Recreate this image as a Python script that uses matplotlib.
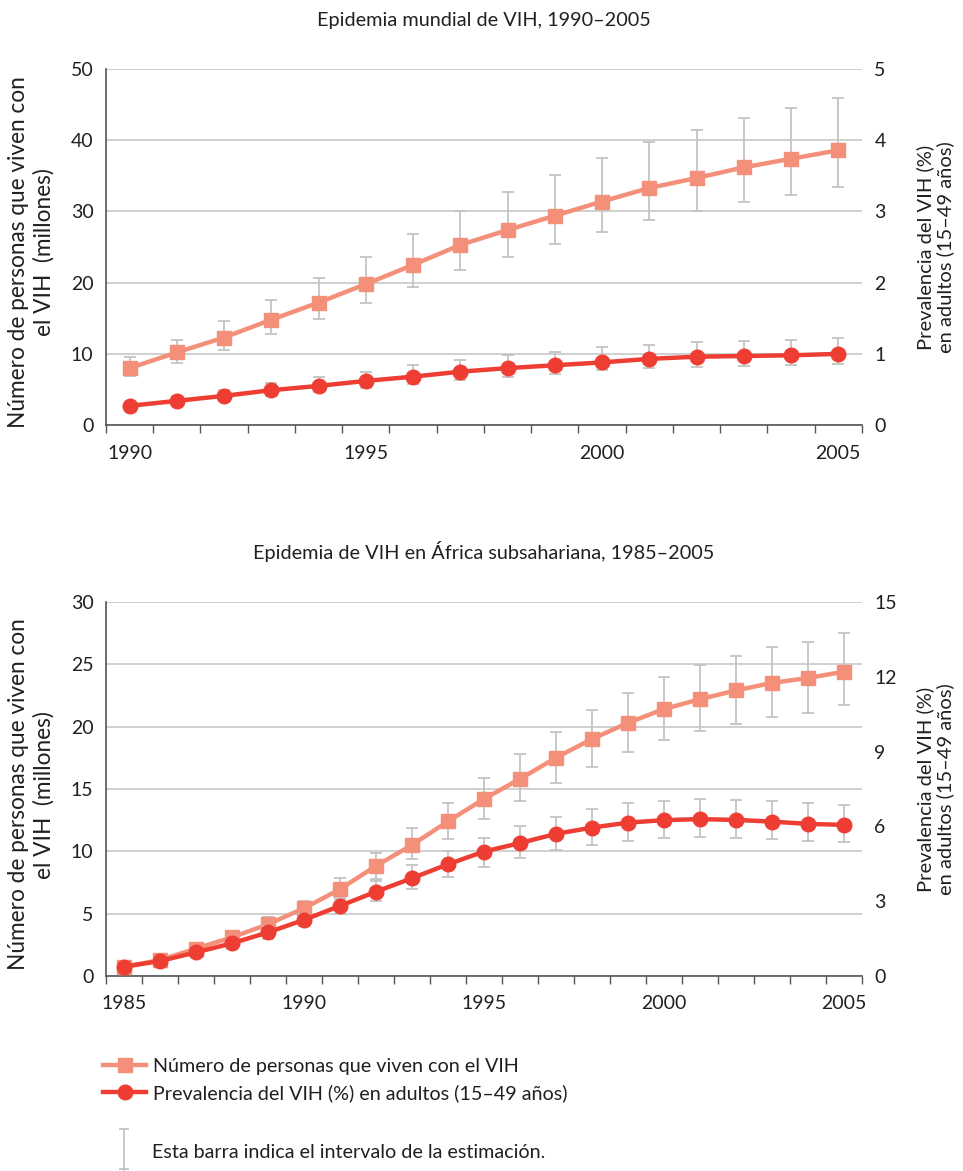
import numpy as np
import matplotlib
matplotlib.use("Agg")
import matplotlib.pyplot as plt
from matplotlib.lines import Line2D

plt.rcParams['font.family'] = ['Lato', 'DejaVu Sans']

# ---- datos: epidemia mundial 1990-2005
years_world = list(range(1990, 2006))
world_people = [8.0, 10.2, 12.3, 14.8, 17.2, 19.8, 22.5, 25.3, 27.4, 29.4, 31.4, 33.3, 34.7, 36.2, 37.4, 38.6]
world_people_low = [6.9, 8.75, 10.6, 12.8, 14.9, 17.1, 19.4, 21.8, 23.6, 25.4, 27.1, 28.8, 30.1, 31.3, 32.3, 33.4]
world_people_high = [9.5, 12.0, 14.6, 17.6, 20.6, 23.6, 26.9, 30.1, 32.7, 35.1, 37.5, 39.8, 41.5, 43.2, 44.5, 46.0]
world_prev = [0.27, 0.34, 0.41, 0.49, 0.55, 0.62, 0.68, 0.75, 0.80, 0.84, 0.88, 0.93, 0.96, 0.97, 0.98, 1.0]
world_prev_low = [0.22, 0.28, 0.34, 0.41, 0.46, 0.52, 0.57, 0.63, 0.68, 0.72, 0.77, 0.80, 0.82, 0.83, 0.84, 0.86]
world_prev_high = [0.33, 0.41, 0.49, 0.59, 0.67, 0.75, 0.84, 0.92, 0.98, 1.03, 1.09, 1.13, 1.16, 1.18, 1.19, 1.22]

# ---- datos: Africa subsahariana 1985-2005
years_ssa = list(range(1985, 2006))
ssa_people = [0.75, 1.28, 2.2, 3.1, 4.15, 5.43, 6.96, 8.83, 10.5, 12.4, 14.2, 15.8, 17.5, 19.0, 20.3,
              21.4, 22.2, 22.9, 23.5, 23.9, 24.4]
ssa_people_low = [0.6, 1.05, 1.85, 2.65, 3.6, 4.9, 6.36, 7.8, 9.37, 10.97, 12.6, 14.07, 15.5, 16.8, 17.95,
                  18.94, 19.64, 20.2, 20.8, 21.1, 21.7]
ssa_people_high = [0.9, 1.5, 2.5, 3.5, 4.7, 6.0, 7.84, 9.85, 11.9, 13.9, 15.9, 17.8, 19.6, 21.3, 22.7,
                   24.0, 24.9, 25.7, 26.35, 26.8, 27.5]
ssa_prev = [0.37, 0.6, 0.95, 1.31, 1.75, 2.25, 2.81, 3.38, 3.92, 4.48, 4.99, 5.33, 5.7, 5.95, 6.15,
            6.25, 6.29, 6.26, 6.19, 6.1, 6.06]
ssa_prev_low = [0.3, 0.5, 0.8, 1.1, 1.5, 2.0, 2.5, 3.02, 3.49, 3.96, 4.39, 4.72, 5.06, 5.26, 5.43,
                5.52, 5.57, 5.55, 5.49, 5.43, 5.37]
ssa_prev_high = [0.45, 0.7, 1.1, 1.5, 2.0, 2.5, 3.1, 3.8, 4.44, 5.03, 5.52, 6.02, 6.39, 6.7, 6.93,
                 7.03, 7.09, 7.06, 7.0, 6.95, 6.86]

titles = ["Epidemia mundial de VIH, 1990\u20132005",
          "Epidemia de VIH en \u00c1frica subsahariana, 1985\u20132005"]
ylabel_left = "N\u00famero de personas que viven con\nel VIH  (millones)"
ylabel_right = "Prevalencia del VIH (%)\nen adultos (15\u201349 a\u00f1os)"
label_people = "N\u00famero de personas que viven con el VIH"
label_prev = "Prevalencia del VIH (%) en adultos (15\u201349 a\u00f1os)"
label_bar = "Esta barra indica el intervalo de la estimaci\u00f3n."

C_SQ = '#f4907a'
C_CI = '#ee3d33'
C_ERR = '#c4c4c4'
C_GRID = '#c8c8c8'
C_TXT = '#231f20'
C_AX = '#555555'

fig = plt.figure(figsize=(9.63, 11.71), dpi=100)

panels = [
    dict(rect=[0.110, 0.637, 0.785, 0.304], years=years_world, people=world_people,
         plo=world_people_low, phi=world_people_high, prev=world_prev, vlo=world_prev_low,
         vhi=world_prev_high, ymax=50, ystep=10, rmax=5, rstep=1, every=5, title=titles[0]),
    dict(rect=[0.110, 0.1665, 0.785, 0.3195], years=years_ssa, people=ssa_people,
         plo=ssa_people_low, phi=ssa_people_high, prev=ssa_prev, vlo=ssa_prev_low,
         vhi=ssa_prev_high, ymax=30, ystep=5, rmax=15, rstep=3, every=5, title=titles[1]),
]

for p in panels:
    ax = fig.add_axes(p['rect'])
    n = len(p['years'])
    x = np.arange(n)
    people = np.array(p['people'])
    prev = np.array(p['prev'])

    ax.errorbar(x, people, yerr=[people - np.array(p['plo']), np.array(p['phi']) - people],
                fmt='none', ecolor=C_ERR, elinewidth=1.3, capsize=4, capthick=1.3, zorder=2)
    sq, = ax.plot(x, people, color=C_SQ, lw=3.2, marker='s', ms=10, zorder=3)

    ax.set_xlim(-0.5, n - 0.5)
    ax.set_ylim(0, p['ymax'])
    ax.set_yticks(np.arange(0, p['ymax'] + 1, p['ystep']))
    ax.set_xticks(x[::p['every']])
    ax.set_xticklabels([str(y) for y in p['years'][::p['every']]])
    ax.set_xticks(np.arange(-0.5, n, 1.0), minor=True)
    ax.tick_params(axis='x', which='major', length=0, pad=14, labelsize=14, labelcolor=C_TXT)
    ax.tick_params(axis='x', which='minor', length=6, width=1, color=C_AX)
    ax.tick_params(axis='y', length=0, pad=9, labelsize=14, labelcolor=C_TXT)
    ax.grid(axis='y', color=C_GRID, lw=1.2)
    ax.set_axisbelow(True)
    for s in ['top', 'right']:
        ax.spines[s].set_visible(False)
    ax.spines['left'].set_color(C_AX)
    ax.spines['bottom'].set_color(C_AX)
    ax.spines['left'].set_linewidth(1.2)
    ax.spines['bottom'].set_linewidth(1.2)
    ax.set_ylabel(ylabel_left, fontsize=16.3, color=C_TXT, multialignment='center',
                  va='center')
    ax.yaxis.set_label_coords(-0.099, 0.485)
    ax.set_title(p['title'], fontsize=14.3, color=C_TXT, pad=31)

    ax2 = ax.twinx()
    ax2.errorbar(x, prev, yerr=[prev - np.array(p['vlo']), np.array(p['vhi']) - prev],
                 fmt='none', ecolor=C_ERR, elinewidth=1.3, capsize=4, capthick=1.3, zorder=2)
    ci, = ax2.plot(x, prev, color=C_CI, lw=3.2, marker='o', ms=10.5, zorder=3)
    ax2.set_ylim(0, p['rmax'])
    ax2.set_yticks(np.arange(0, p['rmax'] + 0.1, p['rstep']))
    ax2.tick_params(axis='y', length=0, pad=9, labelsize=14, labelcolor=C_TXT)
    for s in ax2.spines.values():
        s.set_visible(False)
    ax2.set_ylabel(ylabel_right, fontsize=14.5, color=C_TXT, rotation=90,
                   multialignment='center', va='center')
    ax2.yaxis.set_label_coords(1.097, 0.5)

fig.legend([sq, ci], [label_people, label_prev], loc='upper left',
           bbox_to_anchor=(103 / 963, 1 - 1058 / 1171), frameon=False, fontsize=14.2,
           handlelength=2.2, handletextpad=0.35, labelspacing=0.45, borderaxespad=0,
           borderpad=0, labelcolor=C_TXT)

# icono de la barra de error
bx = 124 / 963
fig.add_artist(Line2D([bx, bx], [1 - 1170 / 1171, 1 - 1129 / 1171], color=C_ERR, lw=1.3))
for yy in [1129, 1169]:
    fig.add_artist(Line2D([bx - 4 / 963, bx + 4 / 963], [1 - yy / 1171] * 2, color=C_ERR, lw=1.3))
fig.text(152 / 963, 1 - 1153 / 1171, label_bar, fontsize=14.2, color=C_TXT, va='center', ha='left')

fig.savefig('out.png', dpi=100)
